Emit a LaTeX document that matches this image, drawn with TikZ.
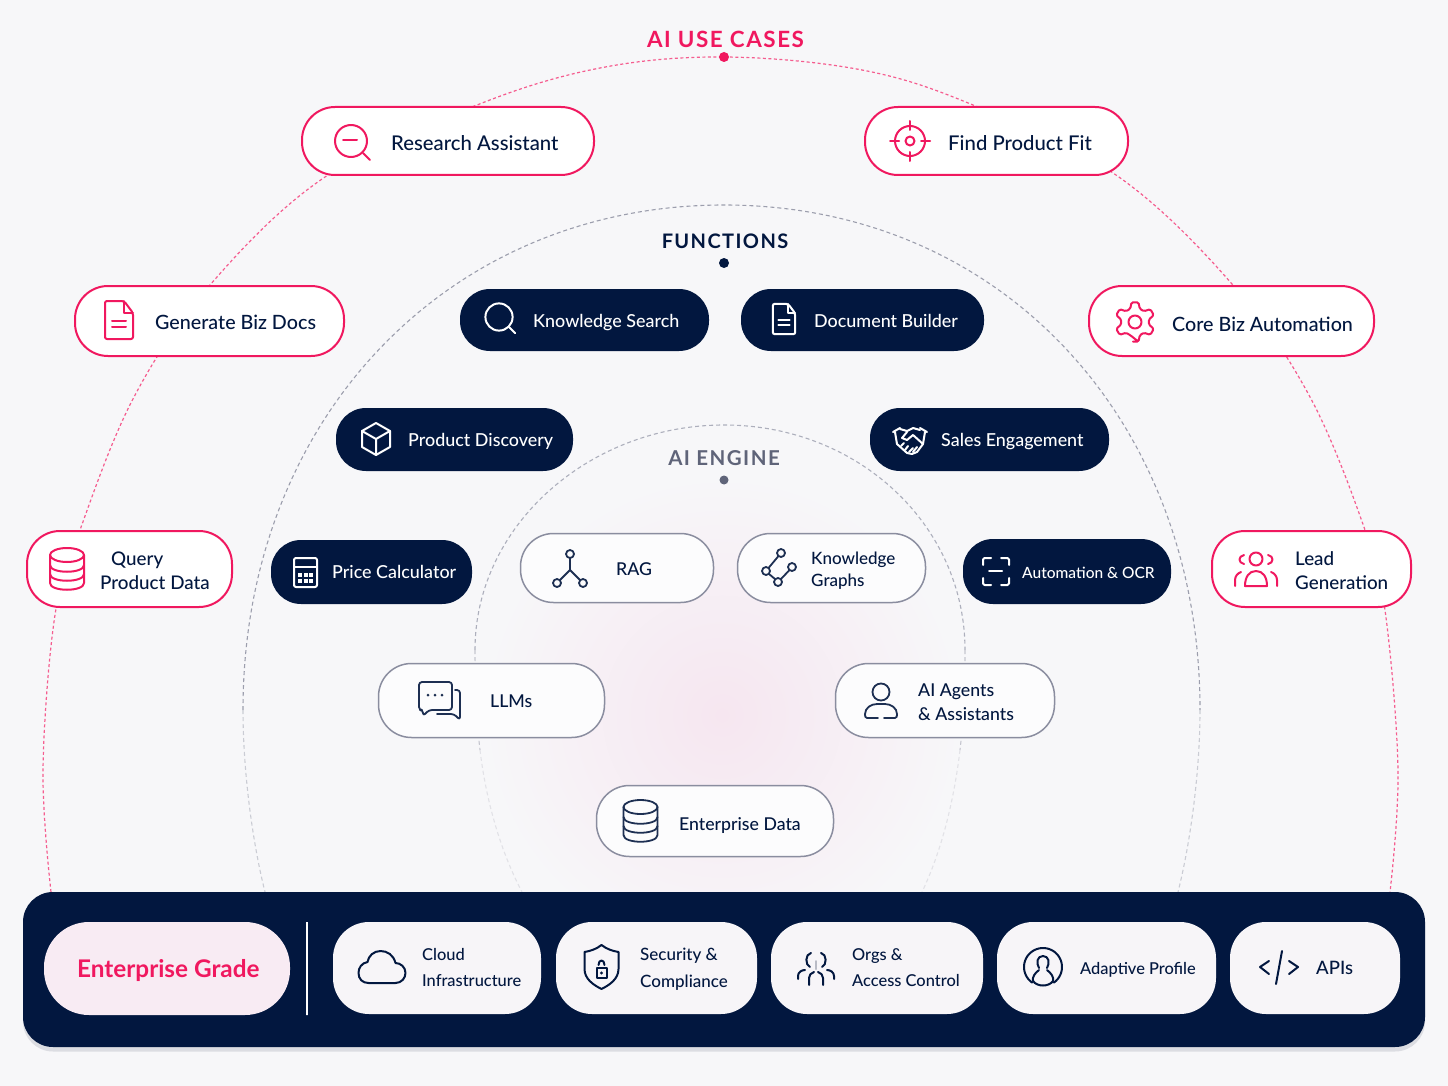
\documentclass[tikz,border=0pt]{standalone}
\usepackage{fontspec}
\setmainfont{Lato Medium}
\newfontfamily\headfont{Lato Bold}[LetterSpace=7]
\newfontfamily\gradefont{Lato Bold}
\definecolor{pagebg}{HTML}{F7F7F9}
\definecolor{ucpink}{HTML}{F0185F}
\definecolor{darknavy}{HTML}{02173F}
\definecolor{pillgrey}{HTML}{8A8D9F}
\definecolor{enginegrey}{HTML}{5F6479}
\definecolor{glowpink}{HTML}{F6E6F0}
\definecolor{basefill}{HTML}{F7F5F8}
\tikzset{
  pillbase/.style={inner sep=0pt, rounded corners=33pt},
  pinkpill/.style={pillbase, draw=ucpink, line width=2pt, fill=white},
  navypill/.style={pillbase, rounded corners=30pt, fill=darknavy},
  greypill/.style={pillbase, draw=pillgrey, line width=1.5pt, fill=white!60!pagebg},
  basepill/.style={inner sep=0pt, rounded corners=36pt, fill=basefill},
  usetext/.style={anchor=west, inner sep=0pt, align=left, text=darknavy, font=\fontsize{19.7}{24}\selectfont},
  navytext/.style={anchor=west, inner sep=0pt, text=white, text height=13pt, text depth=0pt, font=\fontsize{17.9}{22}\selectfont},
  greytext/.style={anchor=west, inner sep=0pt, align=left, text=darknavy, font=\fontsize{17.7}{23}\selectfont},
  basetext/.style={anchor=west, inner sep=0pt, align=left, text=darknavy, font=\fontsize{16.4}{26}\selectfont},
  oneline/.style={align=none, text height=13pt, text depth=0pt},
  headtext/.style={inner sep=0pt, font=\headfont\fontsize{22.4}{26}\selectfont},
  iconline/.style={line width=2pt, line cap=round, line join=round},
  ucdash/.style={ucpink!70, line width=1.2pt, dash pattern=on 3pt off 2.5pt},
  fndash/.style={pillgrey!85, line width=1.1pt, dash pattern=on 4pt off 3pt},
  lensicon/.pic={
    \draw (0,0) circle[radius=16];
    \draw (12,12) -- (19,19);
  },
  targeticon/.pic={
    \draw (0,0) circle[radius=15];
    \draw (0,0) circle[radius=4.5];
    \foreach \a in {0,90,180,270} \draw (\a:11) -- (\a:20);
  },
  pageicon/.pic={
    \draw[rounded corners=2pt] (-14,-19) -- (5,-19) -- (14,-7) -- (14,19) -- (-14,19) -- cycle;
    \draw (5,-19) -- (5,-7) -- (14,-7);
    \draw (-7,1) -- (7,1) (-7,7) -- (7,7);
  },
  gearicon/.pic={
    \draw[rounded corners=1.5pt] (80:20) \foreach \a in {90,30,-30,-90,-150,-210}
      {-- (\a+10:20) -- (\a-10:20) -- (\a-20:14) -- (\a-40:14)} -- cycle;
    \draw (0,0) circle[radius=6.5];
  },
  boxicon/.pic={
    \draw (0,-16) -- (14,-8) -- (14,8) -- (0,16) -- (-14,8) -- (-14,-8) -- cycle;
    \draw (-14,-8) -- (0,0) -- (14,-8) (0,0) -- (0,16);
  },
  shakeicon/.pic={
    \draw (-17,-9) -- (-10,-13) (17,-9) -- (10,-13);
    \draw (-15,-9) -- (-13,3) -- (-3,12) -- (2,13) -- (7,11) -- (13,3) -- (15,-9);
    \draw (-10,-12) -- (-3,-10) -- (3,-13) -- (10,-11);
    \draw (-3,-9) -- (-8,-3) -- (-3,-1) -- (3,-6) -- (13,3);
    \draw (-9,5) -- (-6,2) (-5,9) -- (-2,5) (-1,11) -- (3,7) (3,11) -- (7,6);
  },
  calcicon/.pic={
    \draw[rounded corners=2pt] (-11,-14) rectangle (12,15);
    \draw (-11,-5) -- (12,-5);
    \foreach \cx in {-5,0.5,6} \foreach \cy in {3,9}
      \fill (\cx-2,\cy-2) rectangle (\cx+2,\cy+2);
  },
  scanicon/.pic={
    \draw[rounded corners=1.5pt] (-13,-6) -- (-13,-13) -- (-5,-13) (5,-13) -- (13,-13) -- (13,-6);
    \draw[rounded corners=1.5pt] (-13,7) -- (-13,14) -- (-5,14) (5,14) -- (13,14) -- (13,7);
    \draw (-7,0) -- (6,0);
  },
  groupicon/.pic={
    \draw (0,-11) circle[radius=6.5];
    \draw (-11,16) -- (11,16) .. controls (11,7) and (7,1) .. (0,1) .. controls (-7,1) and (-11,7) .. (-11,16) -- cycle;
    \draw (-12,-15) .. controls (-18,-14) and (-18,-7) .. (-12,-6);
    \draw (12,-15) .. controls (18,-14) and (18,-7) .. (12,-6);
    \draw (-21,16) -- (-21,10) .. controls (-21,6) and (-18,3) .. (-15,2);
    \draw (21,16) -- (21,10) .. controls (21,6) and (18,3) .. (15,2);
  },
  dbicon/.pic={
    \draw (0,-14) ellipse[x radius=17, y radius=7];
    \draw (-17,-14) -- (-17,14) .. controls (-17,23) and (17,23) .. (17,14) -- (17,-14);
    \draw (-17,-4) .. controls (-17,5) and (17,5) .. (17,-4);
    \draw (-17,5) .. controls (-17,14) and (17,14) .. (17,5);
  },
  ragicon/.pic={
    \draw (0,-14) circle[radius=4] (-13,15) circle[radius=4] (13,15) circle[radius=4];
    \draw (0,-10) -- (0,2) -- (-10,12) (0,2) -- (10,12);
  },
  kgicon/.pic={
    \draw (3,-15) circle[radius=4] (-12,3) circle[radius=4] (0,14) circle[radius=4] (14,-1) circle[radius=4];
    \draw (0.5,-12) -- (-9.5,0) (-9,6) -- (-3,11) (3,11) -- (11.5,2);
  },
  chaticon/.pic={
    \draw[rounded corners=3pt] (-21,-19) -- (12,-19) -- (12,9) -- (-11,9) -- (-17,15) -- (-17,9) -- (-21,9) -- cycle;
    \draw[rounded corners=3pt] (15,-11) -- (20,-11) -- (20,13) -- (20,19) -- (14,13) -- (-3,13);
    \foreach \cx in {-12,-5,2} \fill (\cx,-6) circle[radius=1.5];
  },
  agenticon/.pic={
    \draw (0,-13) circle[radius=8.5];
    \draw (-3,13) -- (-14,13) .. controls (-16,13) and (-16,11) .. (-16,9) .. controls (-16,3) and (-10,-1) .. (-4,-1) -- (4,-1) .. controls (10,-1) and (16,3) .. (16,9) .. controls (16,11) and (16,13) .. (14,13) -- (3,13);
  },
  cloudicon/.pic={
    \draw (-13,16) -- (14,16) .. controls (20,16) and (24,11) .. (24,6) .. controls (24,0) and (19,-4) .. (14,-4) .. controls (12,-12) and (6,-16) .. (-1,-16) .. controls (-8,-16) and (-13,-11) .. (-14,-5) .. controls (-20,-4) and (-23,1) .. (-23,6) .. controls (-23,12) and (-19,16) .. (-13,16) -- cycle;
  },
  shieldicon/.pic={
    \draw (0,-22) .. controls (5,-18) and (11,-16) .. (17,-15) -- (17,2) .. controls (17,12) and (8,18) .. (0,22) .. controls (-8,18) and (-17,12) .. (-17,2) -- (-17,-15) .. controls (-11,-16) and (-5,-18) .. (0,-22) -- cycle;
    \draw (-5,1) rectangle (5,11);
    \fill (0,6) circle[radius=1.6];
    \draw (-3,-2) .. controls (-3,-8) and (3,-8) .. (3,-2);
  },
  orgsicon/.pic={
    \draw (-6,-1) .. controls (-11,-3) and (-11,-14) .. (-5,-15);
    \draw (6,-1) .. controls (11,-3) and (11,-14) .. (5,-15);
    \draw (-18,11) -- (-18,8) .. controls (-18,4) and (-14,2) .. (-11,2);
    \draw (18,11) -- (18,8) .. controls (18,4) and (14,2) .. (11,2);
    \draw (-7,17) -- (-7,10) .. controls (-7,7) and (-5,5) .. (-2,4);
    \draw (7,17) -- (7,10) .. controls (7,7) and (5,5) .. (2,4);
    \draw[pillgrey!60] (0,-7) -- (0,1);
  },
  profileicon/.pic={
    \draw plot[domain=-55:235, samples=40] ({19*cos(\x)},{-19*sin(\x)});
    \draw (-4,1) .. controls (-7,-4) and (-6,-11) .. (0,-11) .. controls (6,-11) and (7,-4) .. (4,1);
    \draw (-4,3) .. controls (-8,6) and (-11,10) .. (-10,14) .. controls (-6,20) and (6,20) .. (10,14) .. controls (11,10) and (8,6) .. (4,3);
  },
  codeicon/.pic={
    \draw (-10,-6) -- (-19,0) -- (-10,7);
    \draw (10,-6) -- (19,0) -- (10,7);
    \draw (3,-16) -- (-3,17);
  },
}
\begin{document}
\begin{tikzpicture}[x=1pt, y=-1pt]
        \useasboundingbox (0,0) rectangle (1448,1086);
        \fill[pagebg] (0,0) rectangle (1448,1086);
        \shade[inner color=glowpink, outer color=pagebg] (722,715) circle[radius=240];

        % use cases arc
        \draw[ucdash] plot[smooth, tension=0.6] coordinates {(51,892) (43,770) (55,615) (80,530) (134,397) (210,285)
            (325,177) (477,105) (600,68) (724,57) (862,70) (973,105) (1116,175) (1232,284) (1310,397)
            (1365,530) (1385,610) (1398,770) (1390,892)};

        % functions arc
        \draw[fndash] (243,710) .. controls (243,420) and (447,205) .. (724,205)
            .. controls (1001,205) and (1200,420) .. (1200,710);
        \draw[fndash, pillgrey!45] (243,710) .. controls (243,770) and (252,840) .. (265,892);
        \draw[fndash, pillgrey!45] (1200,710) .. controls (1200,770) and (1191,840) .. (1178,892);

        % engine arc
        \draw[fndash, pillgrey!70] (475,650) .. controls (475,526) and (589,425) .. (724,425)
            .. controls (859,425) and (965,526) .. (965,650);
        \draw[fndash, pillgrey!50] (475,650) .. controls (475,680) and (476,715) .. (480,750);
        \draw[fndash, pillgrey!50] (965,650) .. controls (965,680) and (964,715) .. (960,750);
        \draw[fndash, pillgrey!25] (480,750) .. controls (486,800) and (500,850) .. (522,892);
        \draw[fndash, pillgrey!25] (960,750) .. controls (954,800) and (942,850) .. (922,892);

        % headings
        \node[headtext, text=ucpink] (usehead) at (725.5,39.5) {AI USE CASES};
        \node[headtext, text=darknavy, font=\headfont\fontsize{20}{26}\selectfont] (funchead) at (725,241) {FUNCTIONS};
        \node[headtext, text=enginegrey, font=\headfont\fontsize{20.5}{26}\selectfont] (enginehead) at (724,458) {AI ENGINE};
        \fill[ucpink] (724,57) circle[radius=5];
        \fill[darknavy] (724,263) circle[radius=5];
        \fill[enginegrey] (724,480) circle[radius=4.5];

        % use case pills
        \node[pinkpill, minimum width=292pt, minimum height=68pt] (research) at (448,141) {};
        \node[pinkpill, minimum width=263pt, minimum height=68pt] (findfit) at (996.5,141) {};
        \node[pinkpill, minimum width=269pt, minimum height=70pt] (bizdocs) at (209.5,321) {};
        \node[pinkpill, minimum width=285pt, minimum height=70pt] (corebiz) at (1231.5,321) {};
        \node[pinkpill, minimum width=205pt, minimum height=76pt] (query) at (129.5,569) {};
        \node[pinkpill, minimum width=199pt, minimum height=76pt] (lead) at (1311.5,569) {};

        % function pills
        \node[navypill, minimum width=249pt, minimum height=62pt] (ksearch) at (584.5,320) {};
        \node[navypill, minimum width=243pt, minimum height=62pt] (docbuild) at (862.5,320) {};
        \node[navypill, minimum width=237pt, minimum height=63pt] (discovery) at (454.5,439.5) {};
        \node[navypill, minimum width=239pt, minimum height=63pt] (sales) at (989.5,439.5) {};
        \node[navypill, minimum width=201pt, minimum height=64pt] (price) at (371.5,572) {};
        \node[navypill, minimum width=208pt, minimum height=65pt] (ocr) at (1067,571.5) {};

        % engine pills
        \node[greypill, minimum width=193pt, minimum height=69pt] (rag) at (617,568) {};
        \node[greypill, minimum width=188pt, minimum height=69pt] (kgraph) at (831.5,568) {};
        \node[greypill, minimum width=226pt, minimum height=74pt] (llms) at (491.5,700.5) {};
        \node[greypill, minimum width=219pt, minimum height=74pt] (agents) at (945,700.5) {};
        \node[greypill, minimum width=237pt, minimum height=71pt] (entdata) at (715,821) {};

        % enterprise bar
        \node[fill=pillgrey!30, rounded corners=30pt, minimum width=1402pt, minimum height=155pt] (barshadow) at (724,974) {};
        \node[fill=darknavy, rounded corners=30pt, minimum width=1402pt, minimum height=155pt] (basebar) at (724,969.5) {};
        \node[basepill, fill=glowpink!80!white, rounded corners=45pt, minimum width=246pt, minimum height=93pt] (grade) at (167,968.5) {};
        \node[draw=white, line width=1.5pt, inner sep=0pt, minimum width=0pt, minimum height=93pt] (barrule) at (307,968.5) {};
        \node[basepill, minimum width=208pt, minimum height=92pt] (cloud) at (437,968) {};
        \node[basepill, minimum width=201pt, minimum height=92pt] (security) at (656.5,968) {};
        \node[basepill, minimum width=212pt, minimum height=92pt] (orgs) at (877,968) {};
        \node[basepill, minimum width=219pt, minimum height=92pt] (adaptive) at (1106.5,968) {};
        \node[basepill, minimum width=170pt, minimum height=92pt] (apis) at (1315,968) {};

        % use case icons
        \begin{scope}[iconline, color=ucpink]
            \pic at (351,141) {lensicon};
            \draw (343,140) -- (357,140);
            \pic at (910,141) {targeticon};
            \pic at (119,320) {pageicon};
            \pic at (1135,322) {gearicon};
            \pic at (67,569) {dbicon};
            \pic at (1256,570) {groupicon};
        \end{scope}

        % function icons
        \begin{scope}[iconline, color=white]
            \pic[scale=0.85] at (499,317) {lensicon};
            \pic[scale=0.8] at (784,319) {pageicon};
            \pic at (376,439) {boxicon};
            \pic at (910,441) {shakeicon};
            \pic at (305,572) {calcicon};
            \pic at (996,571) {scanicon};
        \end{scope}

        % engine icons
        \begin{scope}[iconline, color=darknavy!80!pillgrey, line width=1.8pt]
            \pic at (570,568) {ragicon};
            \pic at (778,568) {kgicon};
            \pic at (440,701) {chaticon};
            \pic at (881,705) {agenticon};
            \pic at (640.5,821) {dbicon};
        \end{scope}

        % bar icons
        \begin{scope}[iconline, color=darknavy]
            \pic at (381.5,967) {cloudicon};
            \pic at (601.5,967) {shieldicon};
            \pic at (816,968) {orgsicon};
            \pic at (1043,967) {profileicon};
            \pic at (1279,967) {codeicon};
        \end{scope}

        % use case text
        \node[usetext, oneline, text height=14pt, font=\fontsize{20.3}{24}\selectfont] (researchtext) at (391,144) {Research Assistant};
        \node[usetext, oneline, text height=14pt, font=\fontsize{20.3}{24}\selectfont] (findtext) at (948,144) {Find Product Fit};
        \node[usetext, oneline, text height=14pt] (docstext) at (155,322) {Generate Biz Docs};
        \node[usetext, oneline, text height=14pt] (coretext) at (1172,324) {Core Biz Automation};
        \node[usetext, font=\fontsize{18.8}{24}\selectfont] (querytext) at (100,571) {\hspace*{11pt}Query\\Product Data};
        \node[usetext, font=\fontsize{18.8}{24}\selectfont] (leadtext) at (1295,571) {Lead\\Generation};

        % function text
        \node[navytext] (ksearchtext) at (533,321) {Knowledge Search};
        \node[navytext] (docbuildtext) at (814,321) {Document Builder};
        \node[navytext] (discoverytext) at (408,440) {Product Discovery};
        \node[navytext] (salestext) at (941,440) {Sales Engagement};
        \node[navytext] (pricetext) at (332,572) {Price Calculator};
        \node[navytext, font=\fontsize{15.5}{20}\selectfont] (ocrtext) at (1022,572) {Automation \& OCR};

        % engine text
        \node[greytext, oneline] (ragtext) at (616,569) {RAG};
        \node[greytext, font=\fontsize{17}{22}\selectfont] (kgraphtext) at (811,571) {Knowledge\\Graphs};
        \node[greytext, oneline] (llmstext) at (490,701) {LLMs};
        \node[greytext, font=\fontsize{17.7}{24}\selectfont] (agentstext) at (918,702) {AI Agents\\\& Assistants};
        \node[greytext, oneline] (entdatatext) at (679,824) {Enterprise Data};

        % bar text
        \node[inner sep=0pt, anchor=west, text=ucpink, text height=17pt, text depth=0pt, font=\gradefont\fontsize{24.3}{28}\selectfont] (gradetext) at (77,969) {Enterprise Grade};
        \node[basetext] (cloudtext) at (422,967.5) {Cloud\\Infrastructure};
        \node[basetext, font=\fontsize{17}{27}\selectfont] (securitytext) at (640,969) {Security \&\\Compliance};
        \node[basetext] (orgstext) at (852,967.5) {Orgs \&\\Access Control};
        \node[basetext, oneline, text height=12pt] (adaptivetext) at (1080,968) {Adaptive Profile};
        \node[basetext, oneline, font=\fontsize{18.5}{26}\selectfont] (apistext) at (1316,968) {APIs};
    \end{tikzpicture}
\end{document}
